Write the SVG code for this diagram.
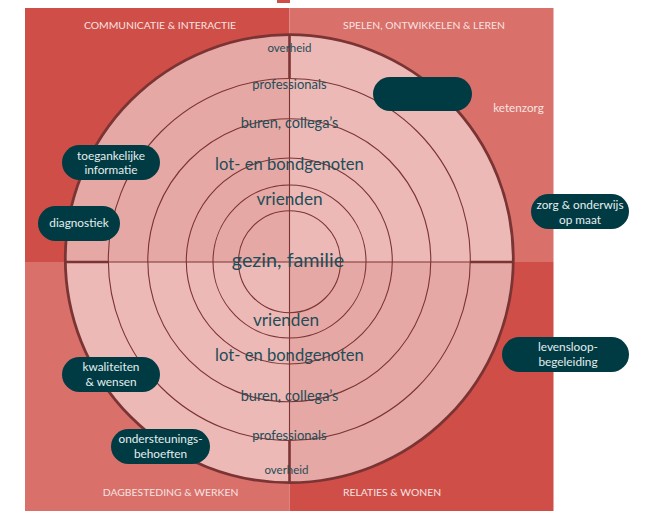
<svg xmlns="http://www.w3.org/2000/svg" width="648" height="511" viewBox="0 0 648 511">
<style>
.qlab{font-family:Lato,"Liberation Sans",sans-serif;font-size:10.4px;fill:#f8e3e1;text-anchor:middle}
.ring{fill:none;stroke:#7b3434;stroke-width:1.1}
.thick{stroke:#7b3434;stroke-width:2.6;fill:none}
.thin{stroke:#7b3434;stroke-width:1.1;fill:none}
.lab{font-family:Lato,"Liberation Sans",sans-serif;fill:#1f4d58;text-anchor:middle}
.pill{fill:#003b43}
.ptxt{font-family:Lato,"Liberation Sans",sans-serif;font-size:11.8px;fill:#e4eeee;text-anchor:middle}
</style>
<defs>
<clipPath id="cc"><circle cx="289.3" cy="258.7" r="224"/></clipPath>
</defs>
<rect x="0" y="0" width="648" height="511" fill="#ffffff"/>
<rect x="277" y="0" width="13" height="3" fill="#cf4e47"/>
<g id="quadrants">
<rect x="25" y="8" width="264.5" height="254" fill="#cf4e47"/>
<rect x="289.5" y="8" width="264" height="254" fill="#d9706a"/>
<rect x="25" y="262" width="264.5" height="249" fill="#d9706a"/>
<rect x="289.5" y="262" width="264" height="249" fill="#cf4e47"/>
<text class="qlab" x="160" y="29">COMMUNICATIE &amp; INTERACTIE</text>
<text class="qlab" x="424" y="29">SPELEN, ONTWIKKELEN &amp; LEREN</text>
<text class="qlab" x="170.5" y="496">DAGBESTEDING &amp; WERKEN</text>
<text class="qlab" x="392" y="496">RELATIES &amp; WONEN</text>
<text class="qlab" x="518.5" y="112" style="font-size:11.7px">ketenzorg</text>
</g>
<g id="circle">
<g clip-path="url(#cc)">
<rect x="60" y="30" width="229.5" height="232" fill="#e6a8a4"/>
<rect x="289.5" y="30" width="230" height="232" fill="#ecb9b6"/>
<rect x="60" y="262" width="229.5" height="230" fill="#ecb9b6"/>
<rect x="289.5" y="262" width="230" height="230" fill="#e6a8a4"/>
</g>
<circle class="ring" cx="289.5" cy="261.7" r="51"/>
<circle class="ring" cx="289.5" cy="261.5" r="76.5"/>
<circle class="ring" cx="289.3" cy="261" r="103"/>
<circle class="ring" cx="289.3" cy="260.3" r="141.5"/>
<circle class="ring" cx="289.3" cy="259.5" r="181"/>
<line class="thin" x1="108" y1="262" x2="470" y2="262"/>
<line class="thin" x1="289.5" y1="78" x2="289.5" y2="440"/>
<line class="thick" x1="65.3" y1="262" x2="108" y2="262"/>
<line class="thick" x1="470" y1="262" x2="513" y2="262"/>
<line class="thick" x1="289.5" y1="35" x2="289.5" y2="78"/>
<line class="thick" x1="289.5" y1="440" x2="289.5" y2="482"/>
<circle cx="289.3" cy="258.7" r="224" fill="none" stroke="#7b3434" stroke-width="2.8"/>
<text class="lab" x="289.5" y="51.5" style="font-size:11.5px">overheid</text>
<text class="lab" x="289.5" y="89" style="font-size:13px">professionals</text>
<text class="lab" x="289.5" y="128" style="font-size:14.6px">buren, collega’s</text>
<text class="lab" x="289.5" y="170" style="font-size:16.6px">lot- en bondgenoten</text>
<text class="lab" x="289.5" y="205" style="font-size:17.2px">vrienden</text>
<text class="lab" x="288" y="267" style="font-size:19.8px">gezin, familie</text>
<text class="lab" x="286" y="326" style="font-size:17.2px">vrienden</text>
<text class="lab" x="289.5" y="361" style="font-size:16.6px">lot- en bondgenoten</text>
<text class="lab" x="289.5" y="401" style="font-size:14.6px">buren, collega’s</text>
<text class="lab" x="289.5" y="440" style="font-size:13px">professionals</text>
<text class="lab" x="286.5" y="473.5" style="font-size:11.5px">overheid</text>
</g>
<g id="connectors"></g>
<g id="pill-empty"><rect class="pill" x="373" y="77" width="99" height="34" rx="17"/></g>
<g id="pill-toegankelijke"><rect class="pill" x="62" y="145" width="98" height="35" rx="17.5"/><text class="ptxt" x="111" y="159.5">toegankelijke</text><text class="ptxt" x="111" y="174">informatie</text></g>
<g id="pill-diagnostiek"><rect class="pill" x="38" y="206" width="82" height="35" rx="17.5"/><text class="ptxt" x="79" y="227">diagnostiek</text></g>
<g id="pill-zorg"><rect class="pill" x="531" y="194" width="98" height="35" rx="17.5"/><text class="ptxt" x="580" y="209">zorg &amp; onderwijs</text><text class="ptxt" x="580" y="223.5">op maat</text></g>
<g id="pill-kwaliteiten"><rect class="pill" x="62" y="357" width="98" height="35" rx="17.5"/><text class="ptxt" x="111" y="371">kwaliteiten</text><text class="ptxt" x="111" y="385.5">&amp; wensen</text></g>
<g id="pill-levensloop"><rect class="pill" x="502" y="337" width="127" height="35" rx="17.5"/><text class="ptxt" x="568" y="351">levensloop-</text><text class="ptxt" x="568" y="365.5">begeleiding</text></g>
<g id="pill-ondersteunings"><rect class="pill" x="111" y="429" width="99" height="35" rx="17.5"/><text class="ptxt" x="160.5" y="443">ondersteunings-</text><text class="ptxt" x="160.5" y="457.5">behoeften</text></g>
</svg>
